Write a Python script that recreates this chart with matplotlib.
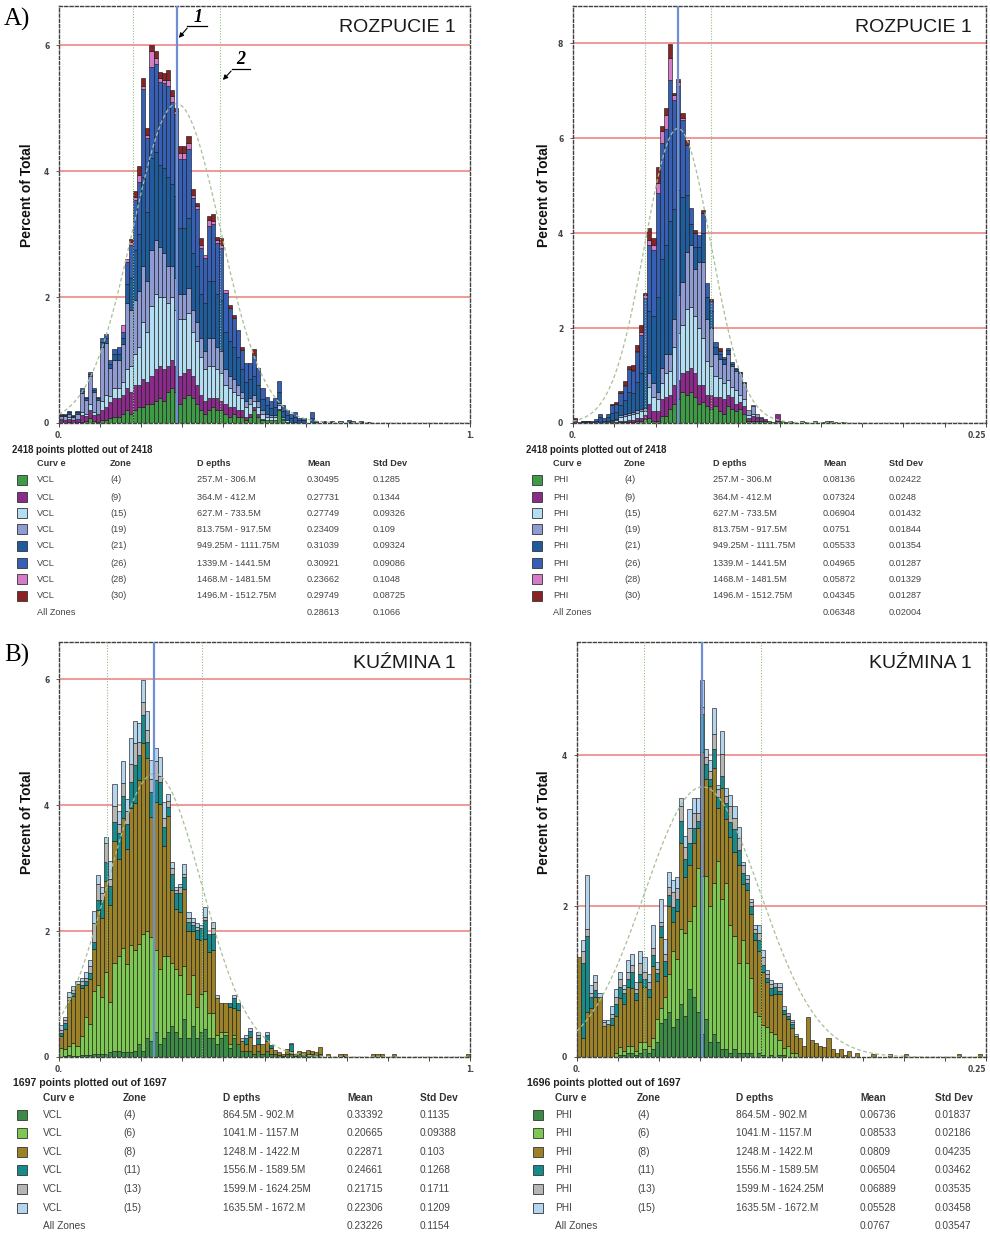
import numpy as np
import matplotlib
matplotlib.use("Agg")
import matplotlib.pyplot as plt
from matplotlib.patches import Rectangle, FancyArrowPatch
from matplotlib.lines import Line2D

W, H = 990, 1237
def fx(x): return x / W
def fy(y): return 1 - y / H

SANS = ['Liberation Sans', 'DejaVu Sans']
SERIF = ['Liberation Serif', 'DejaVu Serif']

# ====================== DATA ======================
# ---- A) ROZPUCIE 1, VCL, bins of 0.01 ----
vcl_r_total = [0.14,0.14,0.19,0.13,0.19,0.55,0.42,0.81,0.55,0.42,
 1.35,1.42,1.00,1.18,1.20,1.55,2.60,2.92,3.69,4.08,
 5.47,4.68,6.00,5.90,5.57,5.55,5.60,5.29,5.00,4.39,
 4.39,4.55,3.72,3.50,2.93,2.67,3.28,3.31,2.96,2.93,
 2.11,1.87,1.71,1.48,1.21,0.95,0.95,1.18,0.87,0.55,
 0.42,0.35,0.39,0.66,0.29,0.21,0.15,0.18,0.08,0.08,
 0.00,0.18,0.03,0.00,0.03,0.00,0.03,0.00,0.03,0.00,
 0.04,0.03,0.00,0.03,0.00,0.02]
vcl_r_z4 = [0,0,0.02,0,0.02,0.02,0.03,0.08,0.03,0.02,
 0.05,0.05,0.08,0.10,0.10,0.15,0.20,0.15,0.20,0.25,
 0.25,0.30,0.30,0.35,0.40,0.35,0.50,0.55,0.50,0.30,
 0.40,0.45,0.40,0.30,0.20,0.15,0.20,0.25,0.20,0.20,
 0.15,0.10,0.15,0.10,0.10,0.05,0.10,0.20,0.10,0.05,
 0.05,0.05,0.05,0.20,0.05,0.02]
vcl_r_z9 = [0.05,0.05,0.05,0.04,0.05,0.10,0.08,0.12,0.10,0.10,
 0.15,0.20,0.25,0.30,0.30,0.30,0.35,0.35,0.40,0.35,
 0.45,0.35,0.45,0.50,0.50,0.50,0.40,0.45,0.40,0.45,
 0.40,0.40,0.35,0.30,0.25,0.20,0.20,0.15,0.20,0.15,
 0.15,0.15,0.10,0.10,0.10,0.05,0.05,0.05,0.05,0.02,
 0,0,0,0.03]
vcl_r_z15 = [0.02,0,0.02,0,0,0.05,0.03,0.10,0.05,0.03,
 0.15,0.20,0.10,0.15,0.15,0.20,0.30,0.40,0.50,0.60,
 0.90,0.80,1.10,1.20,1.10,1.15,1.00,1.00,0.90,0.90,
 0.85,0.90,0.70,0.70,0.60,0.50,0.50,0.50,0.45,0.45,
 0.30,0.30,0.25,0.25,0.20,0.15,0.15,0.10,0.10,0.08,
 0.05,0.05,0.05,0.05,0.02,0.02,0,0.02]
vcl_r_z19 = [0.04,0.06,0.06,0.05,0.08,0.30,0.22,0.45,0.32,0.22,
 0.85,0.82,0.45,0.45,0.45,0.60,1.05,0.90,0.85,0.90,
 0.90,0.80,0.90,0.85,0.80,0.70,0.60,0.50,0.50,0.40,
 0.40,0.40,0.35,0.30,0.30,0.30,0.45,0.45,0.35,0.35,
 0.25,0.20,0.20,0.15,0.10,0.10,0.10,0.10,0.10,0.05,
 0.05,0.02,0.02,0.03,0.02]
vcl_r_z21 = [0.02,0.02,0.02,0.02,0.02,0.04,0.03,0.03,0.03,0.03,
 0.08,0.08,0.06,0.09,0.10,0.10,0.30,0.50,0.80,0.90,
 1.40,1.10,1.45,1.40,1.30,1.35,1.40,1.30,1.30,1.05,
 1.05,1.10,0.90,0.90,0.70,0.75,0.90,0.90,0.85,0.80,
 0.60,0.55,0.50,0.45,0.35,0.30,0.30,0.30,0.25,0.18,
 0.14,0.12,0.14,0.18,0.10,0.08,0.08,0.08,0.04,0.04,
 0,0.08,0.02,0,0.02,0,0.02,0,0.02,0,
 0.02,0.02,0,0.02,0,0.01]
vcl_r_z28 = [0,0,0,0,0,0,0,0,0,0,
 0,0,0,0,0,0.10,0.05,0.05,0.05,0.10,
 0.05,0.05,0.25,0.10,0.05,0.05,0.10,0.10,0.05,0.10,
 0.10,0.10,0.05,0.05,0.05,0.05,0.10,0.05,0.05,0.05,
 0.05]
vcl_r_z30 = [0,0,0,0,0,0,0,0,0,0,
 0,0,0,0,0,0,0,0.05,0.10,0.15,
 0.12,0.10,0.10,0.10,0.10,0.10,0.15,0.10,0.05,0.10,
 0.10,0.10,0.10,0.05,0.10,0,0.05,0.10,0.05,0.10,
 0,0.05,0.05,0,0.05,0,0,0.10]

# ---- A) ROZPUCIE 1, PHI, bins of 0.0025 ----
phi_r_total = [0.10,0.03,0.05,0.05,0.05,0.08,0.20,0.10,0.20,0.41,
 0.45,0.67,0.88,1.19,1.22,1.64,2.06,2.74,4.10,3.90,
 5.40,6.25,6.63,7.98,6.95,7.24,6.53,5.96,4.52,4.06,
 3.96,4.48,2.94,2.62,1.71,1.57,1.40,1.58,1.29,1.15,
 1.08,0.87,0.27,0.38,0.20,0.12,0.08,0.05,0.03,0.20,
 0.05,0.03,0.05,0.02,0.00,0.04,0.02,0.00,0.05,0.00,
 0.03,0.04,0.05,0.03,0.00,0.03]
phi_r_z4 = [0,0,0,0,0,0,0,0,0,0,
 0,0.02,0.02,0.03,0.03,0.05,0.05,0.08,0.10,0.05,
 0.05,0.15,0.15,0.30,0.40,0.50,0.66,0.60,0.65,0.55,
 0.40,0.45,0.35,0.30,0.35,0.25,0.20,0.35,0.30,0.25,
 0.30,0.20,0.05,0.05,0.05,0.05,0.05,0.05,0.03,0.05,
 0.05,0.03,0.05,0.02,0,0.04,0.02,0,0.05,0,
 0.03,0.04,0.05,0.03,0,0.03]
phi_r_z9 = [0.08,0.03,0.02,0.02,0,0,0,0,0.02,0.02,
 0.02,0.03,0.03,0.03,0.03,0.05,0.05,0.08,0.30,0.20,
 0.20,0.35,0.40,0.30,0.40,0.40,0.40,0.50,0.50,0.50,
 0.40,0.35,0.25,0.30,0.20,0.30,0.30,0.25,0.25,0.15,
 0.15,0.15,0.05,0.10,0.05,0.05,0.03,0,0,0.15]
phi_r_z15 = [0,0,0,0,0,0,0.02,0,0.03,0.03,
 0.05,0.08,0.10,0.10,0.12,0.12,0.15,0.10,0.35,0.30,
 0.25,0.35,0.50,0.50,0.80,1.00,1.00,1.30,1.30,1.20,
 1.20,1.00,0.70,0.60,0.45,0.40,0.35,0.30,0.20,0.30,
 0.15,0.15,0.07,0.05,0.02]
phi_r_z19 = [0,0,0,0,0,0,0,0,0,0.02,
 0.02,0.03,0.03,0.05,0.05,0.05,0.05,0.05,0.30,0.30,
 0.15,0.30,0.40,0.35,0.60,0.80,0.90,1.20,1.30,1.00,
 1.40,1.60,0.90,0.80,0.45,0.40,0.40,0.55,0.45,0.40,
 0.45,0.35,0.10,0.15,0.08,0.02]
phi_r_z21 = [0,0,0.02,0.02,0.03,0.04,0.10,0.05,0.08,0.15,
 0.15,0.22,0.30,0.45,0.40,0.60,0.75,1.10,1.30,1.40,
 2.00,2.30,2.30,2.80,2.30,2.20,1.80,1.20,0.45,0.45,
 0.30,0.60,0.45,0.35,0.15,0.10,0.10,0.08,0.05,0.03,
 0.02,0.02]
phi_r_z28 = [0,0,0,0,0,0,0,0,0,0,
 0.02,0,0.02,0,0.03,0.03,0.05,0.05,0.10,0.10,
 0.20,0.25,0.30,0.45,0.10,0.10,0.05,0,0,0,
 0,0,0,0,0,0,0,0,0,0,
 0,0,0,0.03]
phi_r_z30 = [0.02,0,0,0,0,0,0,0,0,0.04,
 0.04,0.03,0.08,0.05,0.10,0.12,0.15,0.05,0.25,0.15,
 0.35,0.10,0.15,0.30,0.05,0.05,0.10,0.10,0,0.05,
 0,0.05,0,0.05,0,0.05]

# ---- B) KUZMINA 1, VCL, bins of 0.01 ----
vcl_k_total = [0.51,0.64,1.04,1.12,1.21,1.25,1.35,1.54,2.32,2.89,
 2.70,3.50,3.12,4.33,3.90,4.70,4.10,5.06,5.34,5.30,
 5.98,5.50,4.71,4.90,4.76,4.05,4.17,3.10,2.70,2.75,
 3.06,2.30,2.20,2.12,2.10,2.38,1.96,2.15,0.98,0.85,
 0.85,0.85,0.98,0.85,0.30,0.35,0.46,0.19,0.40,0.20,
 0.40,0.19,0.11,0.08,0.05,0.12,0.22,0.05,0.10,0.08,
 0.11,0.10,0.08,0.16,0.00,0.04,0.00,0.00,0.05,0.05,
 0.00,0.00,0.00,0.00,0.00,0.00,0.04,0.05,0.04,0.00,
 0.00,0.04,0.00,0.00,0.00,0.00,0.00,0.00,0.00,0.00,
 0.00,0.00,0.00,0.00,0.00,0.00,0.00,0.00,0.00,0.05]
vcl_k_z4 = [0,0.02,0.03,0.02,0.02,0.03,0.03,0.03,0.05,0.05,
 0.05,0.05,0.08,0.10,0.10,0.08,0.08,0.08,0.10,0.20,
 0.10,0.30,0.25,0.40,0.20,0.30,0.40,0.50,0.40,0.30,
 0.60,0.30,0.50,0.30,0.40,0.45,0.30,0.30,0.20,0.30,
 0.35,0.15,0.30,0.20,0.10,0.10,0.10,0.05,0.10,0.05,
 0.10,0.05,0.05,0.03,0.02,0.05,0.05,0.02,0.05,0.03,
 0.05,0.05,0.03,0.05,0,0.02,0,0,0.02,0.02]
vcl_k_z6 = [0.15,0.10,0.15,0.20,0.15,0.30,0.60,0.50,1.00,1.10,
 0.90,1.30,0.80,1.40,1.50,1.65,1.40,1.70,1.60,1.60,
 1.85,1.70,1.65,1.30,1.20,1.30,1.20,1.00,1.00,1.00,
 0.85,0.70,0.80,0.50,0.60,0.60,0.40,0.40,0.15,0.10,
 0.05,0.05,0.05]
vcl_k_z11 = [0.05,0.10,0,0.05,0,0.05,0.05,0.10,0.10,0.15,
 0.30,0.30,0.30,0.30,0.40,0.35,0.40,0.40,0.60,0.40,
 0.45,0.25,0.40,0.35,0.35,0.30,0.15,0.25,0.25,0.30,
 0.20,0.15,0.10,0.15,0.20,0.30,0.30,0.25,0,0,
 0,0.05,0.15,0.10,0,0.10,0.10,0,0.10,0,
 0.10,0.05,0,0,0,0,0.10]
vcl_k_z13 = [0.05,0.05,0.05,0.05,0,0.05,0.05,0.10,0.30,0.25,
 0.10,0.30,0.10,0.25,0.15,0.20,0.20,0.30,0.35,0.20,
 0.20,0.20,0.20,0.30,0.10,0.15,0.10,0.10,0.05,0.10,
 0.05,0.05,0.05,0.05,0,0.05,0,0.10,0,0,
 0,0,0,0,0.05,0,0,0,0.05]
vcl_k_z15 = [0.08,0.05,0.08,0.05,0.05,0.05,0.10,0.10,0.20,0.15,
 0.10,0.10,0.30,0.35,0.20,0.35,0.20,0.40,0.35,0.30,
 0.35,0.30,0.30,0.20,0.30,0.25,0.10,0.10,0.05,0.05,
 0.15,0.10,0.05,0.05,0.05,0.15,0,0.10,0.05,0,
 0,0,0.05,0,0,0.05,0.05,0,0.05,0,
 0.05,0,0,0,0,0,0.02]

# ---- B) KUZMINA 1, PHI, bins of 0.0025 ----
phi_k_total = [1.33,1.55,2.41,0.95,1.09,0.85,0.49,0.49,0.67,0.90,
 1.13,0.95,1.28,1.37,1.00,1.40,1.33,1.10,1.75,1.26,
 2.09,1.57,2.45,2.34,2.39,3.43,2.93,3.29,3.43,3.43,
 4.99,4.08,3.94,4.63,3.60,4.32,3.56,3.47,3.32,3.05,
 2.59,2.41,2.10,1.75,1.75,1.42,1.15,1.02,0.98,0.98,
 0.67,0.58,0.49,0.31,0.25,0.15,0.53,0.22,0.18,0.15,
 0.13,0.25,0.10,0.05,0.10,0.03,0.08,0.00,0.05,0.00,
 0.00,0.00,0.04,0.00,0.00,0.00,0.04,0.00,0.00,0.00,
 0.04,0.00,0.00,0.00,0.00,0.00,0.00,0.00,0.00,0.00,
 0.00,0.00,0.00,0.04,0.00,0.00,0.00,0.00,0.04,0.00]
phi_k_z4 = [0,0,0,0,0,0,0,0,0,0,
 0.03,0.03,0.05,0.05,0.03,0.05,0.10,0.05,0.10,0.20,
 0.45,0.50,0.60,0.40,0.50,0.70,0.55,0.90,0.80,0.60,
 0.30,0.50,0.20,0.30,0.20,0.10,0.10,0.05,0.10,0.05,
 0.05,0.05,0.05,0,0.05,0.03,0,0.03,0,0.03,
 0.02]
phi_k_z6 = [0,0,0,0,0,0,0,0,0,0.05,
 0.10,0.05,0.10,0.10,0.05,0.15,0.10,0.10,0.15,0.30,
 0.20,0.30,0.50,1.00,0.80,1.00,1.10,0.90,1.20,1.90,
 2.10,1.90,1.80,2.00,2.40,2.00,2.20,1.70,1.50,1.20,
 1.50,1.20,1.00,0.60,0.50,0.40,0.40,0.30,0.30,0.20,
 0.10,0.15,0.05,0.05]
phi_k_z11 = [0,1.00,1.00,0.15,0.10,0,0,0,0.10,0.15,
 0.15,0.15,0.10,0.20,0.10,0.10,0.10,0.10,0.15,0.10,
 0.15,0.20,0.15,0.20,0.15,0.30,0.25,0.30,0.20,0.10,
 0.50,0.20,0.10,0.25,0.15,0.15,0.20,0.20,0.30,0.20,
 0.15,0.10,0.10,0.10,0.15,0.10,0.05,0.10,0.10,0.05,
 0.05,0.05,0.05]
phi_k_z13 = [0,0.15,0.10,0.05,0.10,0,0.05,0,0.05,0.10,
 0.10,0.05,0.10,0.10,0.05,0.15,0.10,0.10,0.10,0.05,
 0.05,0.10,0.10,0.20,0.15,0.20,0.15,0.20,0.20,0.10,
 0.10,0.10,0.10,0.20,0.10,0.30,0.10,0.20,0.15,0.15,
 0.10,0.05,0.05,0.05,0.10,0.10,0.05,0.05,0.05,0.05,
 0,0.03,0.02]
phi_k_z15 = [0,0.15,0.71,0.10,0.10,0.05,0.03,0.05,0.10,0.10,
 0.10,0.05,0.15,0.15,0.10,0.15,0.20,0.10,0.30,0.10,
 0.30,0.20,0.20,0.15,0.15,0.10,0.15,0.25,0.20,0.20,
 0.35,0.10,0.15,0.35,0.05,0.30,0.10,0.15,0.15,0.15,
 0.05,0.05,0.05,0.05,0.10,0.10,0.05,0.05,0,0.05,
 0.05,0,0.03,0.03]

# ---- table data ----
rozp_curves_vcl = ['VCL'] * 8
rozp_curves_phi = ['PHI'] * 8
rozp_zones = ['(4)', '(9)', '(15)', '(19)', '(21)', '(26)', '(28)', '(30)']
rozp_depths = ['257.M - 306.M', '364.M - 412.M', '627.M - 733.5M', '813.75M - 917.5M',
               '949.25M - 1111.75M', '1339.M - 1441.5M', '1468.M - 1481.5M', '1496.M - 1512.75M']
vcl_r_mean = ['0.30495', '0.27731', '0.27749', '0.23409', '0.31039', '0.30921', '0.23662', '0.29749']
vcl_r_std = ['0.1285', '0.1344', '0.09326', '0.109', '0.09324', '0.09086', '0.1048', '0.08725']
phi_r_mean = ['0.08136', '0.07324', '0.06904', '0.0751', '0.05533', '0.04965', '0.05872', '0.04345']
phi_r_std = ['0.02422', '0.0248', '0.01432', '0.01844', '0.01354', '0.01287', '0.01329', '0.01287']
kuz_curves_vcl = ['VCL'] * 6
kuz_curves_phi = ['PHI'] * 6
kuz_zones = ['(4)', '(6)', '(8)', '(11)', '(13)', '(15)']
kuz_depths = ['864.5M - 902.M', '1041.M - 1157.M', '1248.M - 1422.M', '1556.M - 1589.5M',
              '1599.M - 1624.25M', '1635.5M - 1672.M']
vcl_k_mean = ['0.33392', '0.20665', '0.22871', '0.24661', '0.21715', '0.22306']
vcl_k_std = ['0.1135', '0.09388', '0.103', '0.1268', '0.1711', '0.1209']
phi_k_mean = ['0.06736', '0.08533', '0.0809', '0.06504', '0.06889', '0.05528']
phi_k_std = ['0.01837', '0.02186', '0.04235', '0.03462', '0.03535', '0.03458']

all_stats = {'vcl_r': (0.28613, 0.1066), 'phi_r': (0.06348, 0.02004),
             'vcl_k': (0.23226, 0.1154), 'phi_k': (0.0767, 0.03547)}
curve_peak = {'vcl_r': 5.07, 'phi_r': 6.2, 'vcl_k': 4.5, 'phi_k': 3.58}

# colours
rozp_colors = ['#3f9a46', '#8c2a8c', '#b3def2', '#8e9cd3', '#1f5c9e', '#3560b6', '#d47cc9', '#8a2424']
kuz_colors = ['#3b8a46', '#7cc853', '#9b8229', '#178b8b', '#b6b6b6', '#b3d5ee']

# ====================== HELPERS ======================
def pad(v, n=100):
    v = list(v)
    return np.array(v + [0.0] * (n - len(v)), dtype=float)

def layers_with_remainder(total, explicit, rem_index):
    total = pad(total)
    arrs = [pad(a) for a in explicit]
    rem = np.clip(total - np.sum(arrs, axis=0), 0, None)
    arrs.insert(rem_index, rem)
    return arrs

def draw_hist(ax, layers, colors, bw):
    edges = np.arange(100) * bw
    bottom = np.zeros(100)
    for vals, c in zip(layers, colors):
        m = vals > 0
        ax.bar(edges[m], vals[m], width=bw, bottom=bottom[m], align='edge',
               color=c, edgecolor='#1c1c1c', linewidth=0.45, zorder=2)
        bottom += vals

def style(ax, xmax, ymax, yticks, xlabels, key):
    ax.set_xlim(0, xmax)
    ax.set_ylim(0, ymax)
    for s in ax.spines.values():
        s.set_linestyle((0, (2.2, 1.6)))
        s.set_linewidth(1.0)
        s.set_color('#404040')
    ax.set_yticks(yticks)
    ax.set_yticklabels([str(t) for t in yticks], fontsize=5.5, fontweight='bold', color='#333')
    ax.tick_params(axis='y', length=2, width=0.6, pad=5, colors='#444')
    ax.set_xticks([0, xmax])
    labs = ax.set_xticklabels(xlabels, fontsize=5.5, fontweight='bold', color='#333')
    if len(xlabels[1]) > 2:
        labs[1].set_horizontalalignment('right')
    ax.set_xticks(np.linspace(0, xmax, 11)[1:-1], minor=True)
    ax.tick_params(axis='x', which='both', length=3, width=0.7, pad=3, colors='#444')
    for t in yticks[1:]:
        ax.axhline(t, color='#f09090', lw=1.3, zorder=0.5)
    mean, sd = all_stats[key]
    ax.axvline(mean - sd, color='#90bd80', lw=0.8, ls=(0, (1, 1.5)), zorder=4)
    ax.axvline(mean + sd, color='#90bd80', lw=0.8, ls=(0, (1, 1.5)), zorder=4)
    ax.axvline(mean, color='#6f8fd2', lw=1.6, zorder=5)
    xs = np.linspace(0, xmax, 400)
    ys = curve_peak[key] * np.exp(-0.5 * ((xs - mean) / sd) ** 2)
    ax.plot(xs, ys, color='#a6bf96', lw=0.9, ls=(0, (3, 2)), zorder=4)

def add_axes_px(l, t, r, b):
    return fig.add_axes([fx(l), fy(b), (r - l) / W, (b - t) / H])

def table(pts_xy, pts_text, cols_x, header_y, row_ys, curves, zones, depths, means, stds,
          all_mean, all_std, sq_x, colors, fs, sq):
    fig.text(fx(pts_xy[0]), fy(pts_xy[1]), pts_text, fontsize=fs + 0.3, fontweight='bold',
             family=SANS, color='#222', va='center', ha='left')
    for x, h in zip(cols_x, ['Curv e', 'Zone', 'D epths', 'Mean', 'Std Dev']):
        fig.text(fx(x), fy(header_y), h, fontsize=fs, fontweight='bold', family=SANS,
                 color='#333', va='center', ha='left')
    for i, y in enumerate(row_ys[:-1]):
        vals = [curves[i], zones[i], depths[i], means[i], stds[i]]
        for x, v in zip(cols_x, vals):
            fig.text(fx(x), fy(y), v, fontsize=fs, family=SANS, color='#444',
                     va='center', ha='left')
        fig.add_artist(Rectangle((fx(sq_x - sq / 2), fy(y + sq / 2)), sq / W, sq / H,
                                 transform=fig.transFigure, facecolor=colors[i],
                                 edgecolor='#333', lw=0.6))
    y = row_ys[-1]
    fig.text(fx(cols_x[0]), fy(y), 'All Zones', fontsize=fs, family=SANS, color='#444',
             va='center', ha='left')
    fig.text(fx(cols_x[3]), fy(y), all_mean, fontsize=fs, family=SANS, color='#444',
             va='center', ha='left')
    fig.text(fx(cols_x[4]), fy(y), all_std, fontsize=fs, family=SANS, color='#444',
             va='center', ha='left')

# ====================== FIGURE ======================
fig = plt.figure(figsize=(9.9, 12.37), dpi=100)
fig.patch.set_facecolor('white')

# A-left
ax1 = add_axes_px(59, 6, 470, 423)
L = layers_with_remainder(vcl_r_total, [vcl_r_z4, vcl_r_z9, vcl_r_z15, vcl_r_z19, vcl_r_z21,
                                        vcl_r_z28, vcl_r_z30], 5)
draw_hist(ax1, L, rozp_colors, 0.01)
style(ax1, 1.0, 6.62, [0, 2, 4, 6], ['0.', '1.'], 'vcl_r')

# A-right
ax2 = add_axes_px(573, 6, 986, 423)
L = layers_with_remainder(phi_r_total, [phi_r_z4, phi_r_z9, phi_r_z15, phi_r_z19, phi_r_z21,
                                        phi_r_z28, phi_r_z30], 5)
draw_hist(ax2, L, rozp_colors, 0.0025)
style(ax2, 0.25, 8.78, [0, 2, 4, 6, 8], ['0.', '0.25'], 'phi_r')

# B-left
ax3 = add_axes_px(59, 642, 470, 1057)
L = layers_with_remainder(vcl_k_total, [vcl_k_z4, vcl_k_z6, vcl_k_z11, vcl_k_z13, vcl_k_z15], 2)
draw_hist(ax3, L, kuz_colors, 0.01)
style(ax3, 1.0, 6.59, [0, 2, 4, 6], ['0.', '1.'], 'vcl_k')

# B-right
ax4 = add_axes_px(577, 642, 986, 1057)
L = layers_with_remainder(phi_k_total, [phi_k_z4, phi_k_z6, phi_k_z11, phi_k_z13, phi_k_z15], 2)
draw_hist(ax4, L, kuz_colors, 0.0025)
style(ax4, 0.25, 5.5, [0, 2, 4], ['0.', '0.25'], 'phi_k')

# y labels
for x, y in [(27, 195), (544, 195), (27, 822), (544, 822)]:
    fig.text(fx(x), fy(y), 'Percent of Total', rotation=90, fontsize=10, fontweight='bold',
             family=SANS, ha='center', va='center', color='#111')

# well names
for x, y, s in [(456, 27, 'ROZPUCIE 1'), (972, 27, 'ROZPUCIE 1'),
                (456, 663, 'KUŹMINA 1'), (972, 663, 'KUŹMINA 1')]:
    fig.text(fx(x), fy(y), s, fontsize=14, family=SANS, ha='right', va='center', color='#1a1a1a')

# panel letters
fig.text(fx(4), fy(19), 'A)', fontsize=18, family=SERIF, ha='left', va='center')
fig.text(fx(4), fy(655), 'B)', fontsize=18, family=SERIF, ha='left', va='center')

# annotations 1 and 2
fig.text(fx(198), fy(17), '1', fontsize=13, family=SERIF, style='italic', fontweight='bold',
         ha='center', va='center')
fig.add_artist(Line2D([fx(187), fx(207)], [fy(26), fy(26)], transform=fig.transFigure,
                      color='k', lw=0.9))
fig.add_artist(FancyArrowPatch((fx(189), fy(26)), (fx(177), fy(40)), transform=fig.transFigure,
                               arrowstyle='-|>', mutation_scale=7, lw=0.8, color='k'))
fig.text(fx(241), fy(59), '2', fontsize=13, family=SERIF, style='italic', fontweight='bold',
         ha='center', va='center')
fig.add_artist(Line2D([fx(232), fx(250)], [fy(69), fy(69)], transform=fig.transFigure,
                      color='k', lw=0.9))
fig.add_artist(FancyArrowPatch((fx(233), fy(69)), (fx(221), fy(82)), transform=fig.transFigure,
                               arrowstyle='-|>', mutation_scale=7, lw=0.8, color='k'))

# tables
rows_a = [480, 497, 513, 529, 546, 563, 579, 596, 612]
table((12, 450), '2418 points plotted out of 2418', [37, 110, 197, 307, 373], 463, rows_a,
      rozp_curves_vcl, rozp_zones, rozp_depths, vcl_r_mean, vcl_r_std, '0.28613', '0.1066',
      21.5, rozp_colors, 6.6, 10)
table((526, 450), '2418 points plotted out of 2418', [553, 624, 713, 823, 889], 463, rows_a,
      rozp_curves_phi, rozp_zones, rozp_depths, phi_r_mean, phi_r_std, '0.06348', '0.02004',
      537, rozp_colors, 6.6, 10)
rows_b = [1115, 1133, 1152, 1170, 1189, 1208, 1226]
table((13, 1083), '1697 points plotted out of 1697', [43, 123, 223, 347, 420], 1098, rows_b,
      kuz_curves_vcl, kuz_zones, kuz_depths, vcl_k_mean, vcl_k_std, '0.23226', '0.1154',
      22, kuz_colors, 7.3, 10.5)
table((527, 1083), '1696 points plotted out of 1697', [555, 637, 736, 860, 935], 1098, rows_b,
      kuz_curves_phi, kuz_zones, kuz_depths, phi_k_mean, phi_k_std, '0.0767', '0.03547',
      538, kuz_colors, 7.3, 10.5)

fig.savefig('out.png', dpi=100, facecolor='white')
